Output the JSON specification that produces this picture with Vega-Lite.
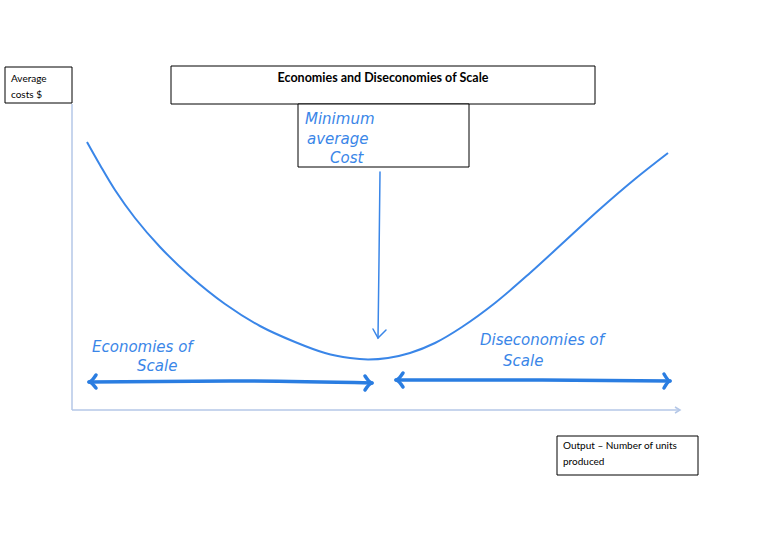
{
  "$schema": "https://vega.github.io/schema/vega-lite/v6.json",
  "width": 768,
  "height": 543,
  "padding": 0,
  "autosize": {"type": "fit", "contains": "padding"},
  "background": "white",
  "config": {"view": {"stroke": null}},
  "datasets": {
    "boxes": [
      {"x1": 5, "x2": 72, "y1": 67, "y2": 103},
      {"x1": 171, "x2": 595, "y1": 66, "y2": 104},
      {"x1": 298, "x2": 469, "y1": 104, "y2": 167},
      {"x1": 557, "x2": 698, "y1": 436, "y2": 475}
    ],
    "axes": [
      {"g": "yaxis", "i": 0, "x": 72, "y": 104},
      {"g": "yaxis", "i": 1, "x": 72, "y": 410},
      {"g": "xaxis", "i": 0, "x": 72, "y": 410},
      {"g": "xaxis", "i": 1, "x": 680, "y": 410},
      {"g": "xhead", "i": 0, "x": 675, "y": 407},
      {"g": "xhead", "i": 1, "x": 680, "y": 410},
      {"g": "xhead", "i": 2, "x": 675, "y": 413}
    ],
    "curve": [
      {"i": 0, "x": 87, "y": 142},
      {"i": 1, "x": 100, "y": 165},
      {"i": 2, "x": 115, "y": 190},
      {"i": 3, "x": 135, "y": 218},
      {"i": 4, "x": 160, "y": 247},
      {"i": 5, "x": 190, "y": 276},
      {"i": 6, "x": 225, "y": 304},
      {"i": 7, "x": 260, "y": 326},
      {"i": 8, "x": 295, "y": 342},
      {"i": 9, "x": 325, "y": 353},
      {"i": 10, "x": 350, "y": 358},
      {"i": 11, "x": 368, "y": 359.5},
      {"i": 12, "x": 388, "y": 358},
      {"i": 13, "x": 410, "y": 353},
      {"i": 14, "x": 435, "y": 343},
      {"i": 15, "x": 462, "y": 327},
      {"i": 16, "x": 495, "y": 303},
      {"i": 17, "x": 530, "y": 273},
      {"i": 18, "x": 565, "y": 241},
      {"i": 19, "x": 600, "y": 209},
      {"i": 20, "x": 635, "y": 179},
      {"i": 21, "x": 668, "y": 153}
    ],
    "thin": [
      {"g": "down", "i": 0, "x": 380, "y": 172},
      {"g": "down", "i": 1, "x": 379, "y": 260},
      {"g": "down", "i": 2, "x": 378, "y": 338},
      {"g": "downhead", "i": 0, "x": 373, "y": 329},
      {"g": "downhead", "i": 1, "x": 378, "y": 338},
      {"g": "downhead", "i": 2, "x": 386, "y": 330}
    ],
    "thick": [
      {"g": "left", "i": 0, "x": 89, "y": 382},
      {"g": "left", "i": 1, "x": 230, "y": 381},
      {"g": "left", "i": 2, "x": 372, "y": 383},
      {"g": "lh1", "i": 0, "x": 96, "y": 375},
      {"g": "lh1", "i": 1, "x": 89, "y": 382},
      {"g": "lh1", "i": 2, "x": 96, "y": 388},
      {"g": "lh2", "i": 0, "x": 365, "y": 376},
      {"g": "lh2", "i": 1, "x": 372, "y": 383},
      {"g": "lh2", "i": 2, "x": 365, "y": 390},
      {"g": "right", "i": 0, "x": 396, "y": 380},
      {"g": "right", "i": 1, "x": 530, "y": 380},
      {"g": "right", "i": 2, "x": 670, "y": 381},
      {"g": "rh1", "i": 0, "x": 403, "y": 373},
      {"g": "rh1", "i": 1, "x": 396, "y": 380},
      {"g": "rh1", "i": 2, "x": 403, "y": 387},
      {"g": "rh2", "i": 0, "x": 664, "y": 374},
      {"g": "rh2", "i": 1, "x": 670, "y": 381},
      {"g": "rh2", "i": 2, "x": 664, "y": 388}
    ],
    "labels": [
      {"x": 11, "y": 79, "text": "Average", "a": "left", "b": false},
      {"x": 11, "y": 95, "text": "costs $", "a": "left", "b": false},
      {"x": 383, "y": 78, "text": "Economies and Diseconomies of Scale", "a": "center", "b": true},
      {"x": 563, "y": 446, "text": "Output \u2013 Number of units", "a": "left", "b": false},
      {"x": 563, "y": 462, "text": "produced", "a": "left", "b": false}
    ],
    "hand": [
      {"x": 305, "y": 119, "text": "Minimum"},
      {"x": 307, "y": 139, "text": "average"},
      {"x": 330, "y": 158, "text": "Cost"},
      {"x": 92, "y": 347, "text": "Economies of"},
      {"x": 137, "y": 366, "text": "Scale"},
      {"x": 480, "y": 340, "text": "Diseconomies of"},
      {"x": 503, "y": 361, "text": "Scale"}
    ]
  },
  "layer": [
    {
      "data": {"name": "boxes"},
      "mark": {"type": "rect", "fill": "white", "stroke": "black", "strokeWidth": 1},
      "encoding": {
        "x": {"field": "x1", "type": "quantitative", "scale": {"domain": [0, 768], "nice": false, "zero": false}, "axis": null},
        "x2": {"field": "x2"},
        "y": {"field": "y1", "type": "quantitative", "scale": {"domain": [0, 543], "nice": false, "zero": false, "reverse": true}, "axis": null},
        "y2": {"field": "y2"}
      }
    },
    {
      "data": {"name": "axes"},
      "mark": {"type": "line", "stroke": "#b4c7e7", "strokeWidth": 1.5},
      "encoding": {
        "x": {"field": "x", "type": "quantitative"},
        "y": {"field": "y", "type": "quantitative"},
        "detail": {"field": "g"},
        "order": {"field": "i"}
      }
    },
    {
      "data": {"name": "curve"},
      "mark": {"type": "line", "stroke": "#3a86e8", "strokeWidth": 2, "interpolate": "catmull-rom"},
      "encoding": {
        "x": {"field": "x", "type": "quantitative"},
        "y": {"field": "y", "type": "quantitative"},
        "order": {"field": "i"}
      }
    },
    {
      "data": {"name": "thin"},
      "mark": {"type": "line", "stroke": "#3a86e8", "strokeWidth": 1.5, "strokeCap": "round"},
      "encoding": {
        "x": {"field": "x", "type": "quantitative"},
        "y": {"field": "y", "type": "quantitative"},
        "detail": {"field": "g"},
        "order": {"field": "i"}
      }
    },
    {
      "data": {"name": "thick"},
      "mark": {"type": "line", "stroke": "#2a7de1", "strokeWidth": 3.5, "strokeCap": "round", "strokeJoin": "round", "interpolate": "monotone"},
      "encoding": {
        "x": {"field": "x", "type": "quantitative"},
        "y": {"field": "y", "type": "quantitative"},
        "detail": {"field": "g"},
        "order": {"field": "i"}
      }
    },
    {
      "data": {"name": "labels"},
      "transform": [{"filter": "datum.b"}],
      "mark": {"type": "text", "font": "Lato", "fontSize": 12.5, "fontWeight": "bold", "align": "center", "baseline": "middle", "color": "black"},
      "encoding": {
        "x": {"field": "x", "type": "quantitative"},
        "y": {"field": "y", "type": "quantitative"},
        "text": {"field": "text"}
      }
    },
    {
      "data": {"name": "labels"},
      "transform": [{"filter": "!datum.b"}],
      "mark": {"type": "text", "font": "Lato", "fontSize": 10, "align": "left", "baseline": "middle", "color": "black"},
      "encoding": {
        "x": {"field": "x", "type": "quantitative"},
        "y": {"field": "y", "type": "quantitative"},
        "text": {"field": "text"}
      }
    },
    {
      "data": {"name": "hand"},
      "mark": {"type": "text", "font": "DejaVu Sans", "fontStyle": "italic", "fontWeight": 300, "fontSize": 15, "align": "left", "baseline": "middle", "color": "#3a86e8"},
      "encoding": {
        "x": {"field": "x", "type": "quantitative"},
        "y": {"field": "y", "type": "quantitative"},
        "text": {"field": "text"}
      }
    }
  ]
}
